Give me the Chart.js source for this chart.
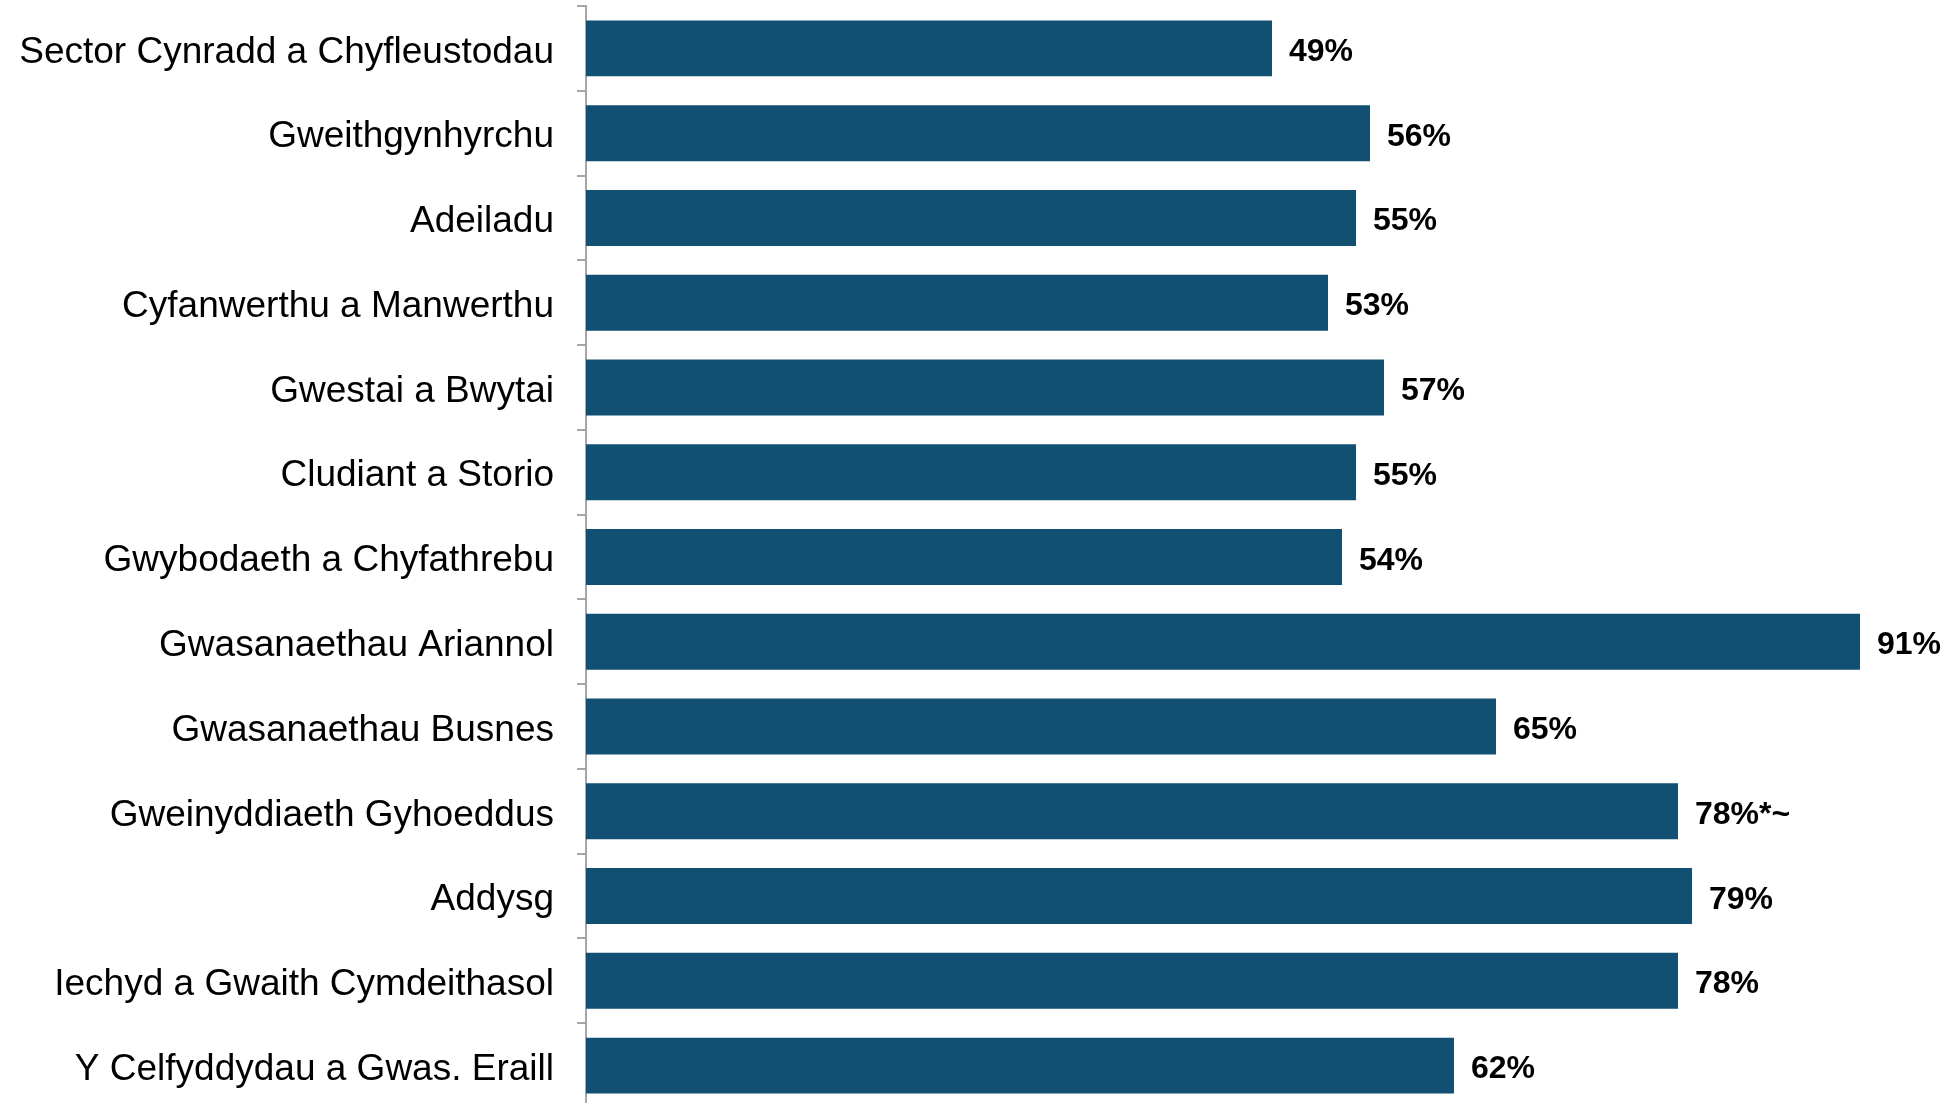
<!DOCTYPE html>
<html>
<head>
<meta charset="utf-8">
<script src="https://cdn.jsdelivr.net/npm/chart.js@4/dist/chart.umd.min.js"></script>
<style>
  body { margin: 0; background: #fff; overflow: hidden; }
  canvas { display: block; }
</style>
</head>
<body>
<canvas id="chartContainer" width="1951" height="1108"></canvas>
<script>
var sectors = [
	'Sector Cynradd a Chyfleustodau',
	'Gweithgynhyrchu',
	'Adeiladu',
	'Cyfanwerthu a Manwerthu',
	'Gwestai a Bwytai',
	'Cludiant a Storio',
	'Gwybodaeth a Chyfathrebu',
	'Gwasanaethau Ariannol',
	'Gwasanaethau Busnes',
	'Gweinyddiaeth Gyhoeddus',
	'Addysg',
	'Iechyd a Gwaith Cymdeithasol',
	'Y Celfyddydau a Gwas. Eraill'
];
var percents = [49, 56, 55, 53, 57, 55, 54, 91, 65, 78, 79, 78, 62];
var valueLabels = ['49%', '56%', '55%', '53%', '57%', '55%', '54%', '91%', '65%', '78%*~', '79%', '78%', '62%'];

var FONT = '"Liberation Sans", Arial, sans-serif';

// write the % text just past the end of each bar
var barLabels = {
	id: 'barLabels',
	afterDatasetsDraw: function (chart) {
		var ctx = chart.ctx;
		var meta = chart.getDatasetMeta(0);
		ctx.save();
		ctx.font = 'bold 32px ' + FONT;
		ctx.fillStyle = '#000';
		ctx.textAlign = 'left';
		ctx.textBaseline = 'alphabetic';
		meta.data.forEach(function (bar, i) {
			ctx.fillText(valueLabels[i], bar.x + 17, bar.y + 12.5);
		});
		ctx.restore();
	}
};

var myChart = document.getElementById('chartContainer').getContext('2d');
var popChart = new Chart(myChart, {
	type: 'bar',
	data: {
		labels: sectors,
		datasets: [{
			data: percents,
			backgroundColor: '#114F73',
			borderWidth: 0,
			barPercentage: 0.66,
			categoryPercentage: 1
		}]
	},
	options: {
		indexAxis: 'y',
		responsive: false,
		animation: false,
		layout: { padding: { top: 6, right: 0, bottom: 0, left: 0 } },
		plugins: {
			legend: { display: false },
			tooltip: { enabled: false }
		},
		scales: {
			x: {
				display: false,
				min: 0,
				max: 97.5
			},
			y: {
				afterFit: function (s) {
					s.width = 586;
					s.paddingTop = 0;
					s.paddingBottom = 0;
				},
				grid: {
					drawOnChartArea: false,
					drawTicks: true,
					tickLength: 9,
					color: '#a6a6a6',
					lineWidth: 2
				},
				border: { display: true, color: '#a6a6a6', width: 2 },
				ticks: {
					color: '#000',
					padding: 23,
					labelOffset: 4,
					font: { family: FONT, size: 37 }
				}
			}
		}
	},
	plugins: [barLabels]
});
</script>
</body>
</html>
